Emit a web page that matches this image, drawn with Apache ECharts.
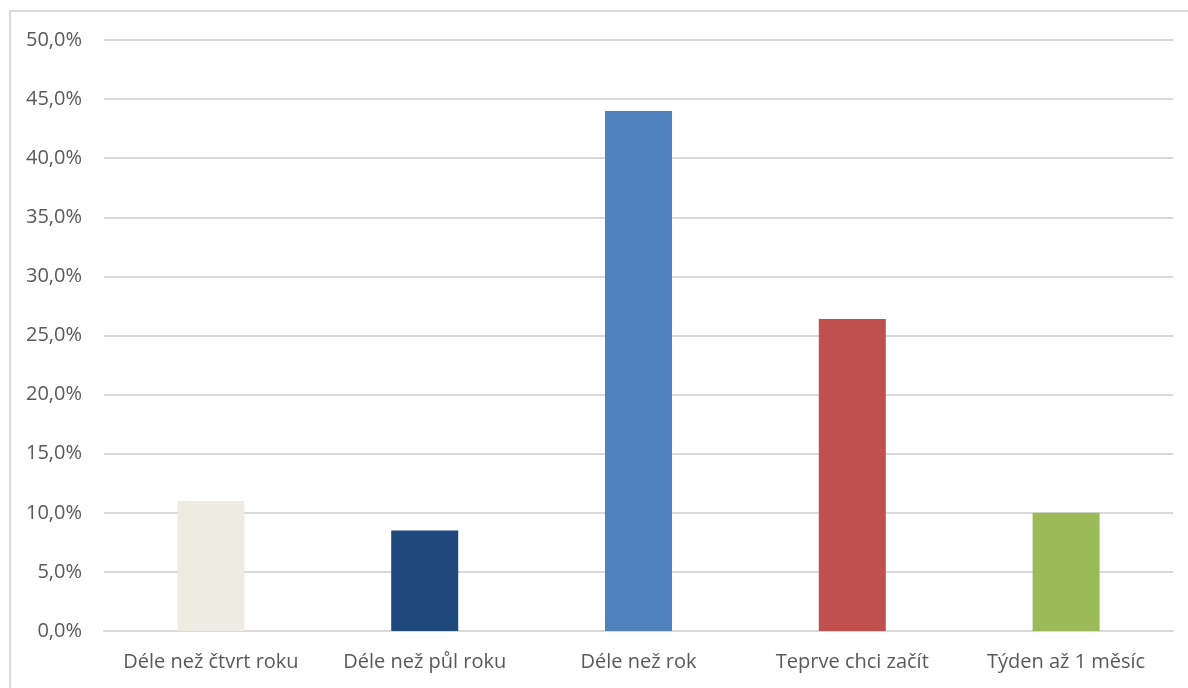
<!DOCTYPE html>
<html>
<head>
<meta charset="utf-8">
<script src="https://cdn.jsdelivr.net/npm/echarts@6/dist/echarts.min.js"></script>
<style>
html,body{margin:0;padding:0;background:#fff;}
#frame{position:absolute;left:9px;top:10px;width:1185px;height:690px;border:2px solid #d9d9d9;box-sizing:border-box;}
#chart{position:absolute;left:0;top:0;width:1188px;height:688px;}
</style>
</head>
<body>
<div id="frame"></div>
<div id="chart"></div>
<script>
const categories = ["Déle než čtvrt roku", "Déle než půl roku", "Déle než rok", "Teprve chci začít", "Týden až 1 měsíc"];
const values = [11.0, 8.5, 44.0, 26.4, 10.0];
const colors = ["#EEEBE0", "#1F497D", "#4F81BD", "#C0504D", "#9BBB59"];

const chart = echarts.init(document.getElementById('chart'));
chart.setOption({
  animation: false,
  grid: {left: 104, right: 15, top: 40, bottom: 57, containLabel: false},
  xAxis: {
    type: 'category',
    data: categories,
    axisLine: {show: true, lineStyle: {color: '#d9d9d9', width: 2}},
    axisTick: {show: false},
    axisLabel: {interval: 0, hideOverlap: false, color: '#595959', fontSize: 20, fontFamily: '"Open Sans", "Noto Sans", sans-serif', margin: 21}
  },
  yAxis: {
    type: 'value',
    min: 0, max: 50, interval: 5,
    axisLine: {show: false},
    axisTick: {show: false},
    splitLine: {lineStyle: {color: '#d9d9d9', width: 2}},
    axisLabel: {
      color: '#595959', fontSize: 20, fontFamily: '"Open Sans", "Noto Sans", sans-serif', margin: 22,
      formatter: v => v.toFixed(1).replace('.', ',') + '%'
    }
  },
  series: [{
    type: 'bar',
    data: values.map((v, i) => ({value: v, itemStyle: {color: colors[i]}})),
    barWidth: 67
  }]
});
</script>
</body>
</html>
